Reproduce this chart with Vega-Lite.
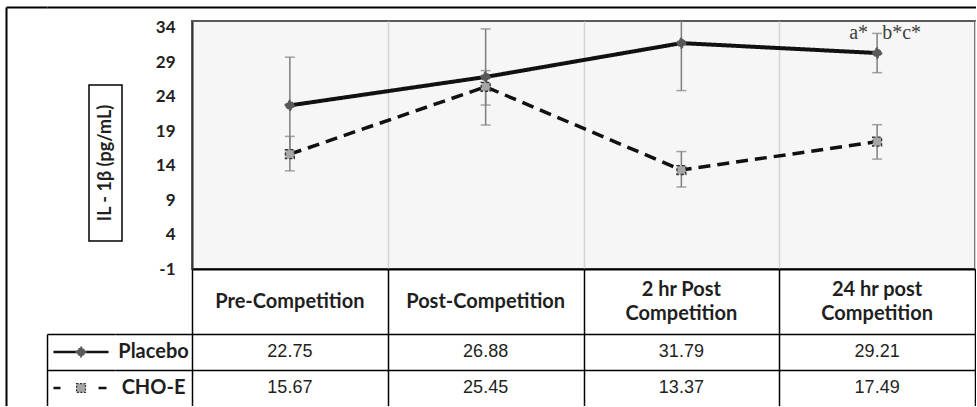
{
  "$schema": "https://vega.github.io/schema/vega-lite/v6.json",
  "padding": {"left": 6, "top": 7, "right": 0, "bottom": 0},
  "background": "white",
  "config": {"view": {"stroke": null}, "font": "Lato"},
  "datasets": {
    "il1b": [
      {"time": "Pre-Competition", "group": "Placebo", "mean": 22.75, "lo": 15.75, "hi": 29.75, "shown": "22.75"},
      {"time": "Post-Competition", "group": "Placebo", "mean": 26.88, "lo": 19.9, "hi": 33.85, "shown": "26.88"},
      {"time": "2 hr Post Competition", "group": "Placebo", "mean": 31.79, "lo": 24.9, "hi": 38.8, "shown": "31.79"},
      {"time": "24 hr post Competition", "group": "Placebo", "mean": 30.35, "lo": 27.5, "hi": 33.2, "shown": "29.21"},
      {"time": "Pre-Competition", "group": "CHO-E", "mean": 15.67, "lo": 13.25, "hi": 18.25, "shown": "15.67"},
      {"time": "Post-Competition", "group": "CHO-E", "mean": 25.45, "lo": 22.8, "hi": 27.8, "shown": "25.45"},
      {"time": "2 hr Post Competition", "group": "CHO-E", "mean": 13.37, "lo": 10.9, "hi": 16.05, "shown": "13.37"},
      {"time": "24 hr post Competition", "group": "CHO-E", "mean": 17.49, "lo": 14.95, "hi": 19.95, "shown": "17.49"}
    ],
    "groups": [{"group": "Placebo"}, {"group": "CHO-E"}],
    "headers": [
      {"time": "Pre-Competition", "label": "Pre-Competition", "lines": 1},
      {"time": "Post-Competition", "label": "Post-Competition", "lines": 1},
      {"time": "2 hr Post Competition", "label": "2 hr Post|Competition", "lines": 2},
      {"time": "24 hr post Competition", "label": "24 hr post|Competition", "lines": 2}
    ]
  },
  "spacing": 0,
  "bounds": "flush",
  "hconcat": [
    {
      "width": 41,
      "height": 399,
      "data": {"values": [{}]},
      "mark": {"type": "point", "opacity": 0},
      "encoding": {
        "x": {"datum": 0.5, "type": "quantitative", "scale": {"domain": [0, 1]},
              "axis": {"orient": "top", "labels": false, "ticks": false, "grid": false, "title": null, "domainColor": "#000", "domainWidth": 2}},
        "y": {"datum": 0.5, "type": "quantitative", "scale": {"domain": [0, 1]},
              "axis": {"orient": "left", "labels": false, "ticks": false, "grid": false, "title": null, "domainColor": "#000", "domainWidth": 2}}
      }
    },
    {
      "spacing": 0,
      "bounds": "flush",
      "vconcat": [
        {
          "width": 929,
          "height": 14,
          "data": {"values": [{}]},
          "mark": {"type": "point", "opacity": 0},
          "encoding": {
            "x": {"datum": 0.5, "type": "quantitative", "scale": {"domain": [0, 1]},
                  "axis": {"orient": "top", "labels": false, "ticks": false, "grid": false, "title": null, "domainColor": "#000", "domainWidth": 2}}
          }
        },
        {
          "spacing": 145,
          "bounds": "flush",
          "hconcat": [
            {
              "spacing": 0,
              "bounds": "flush",
              "vconcat": [
                {"width": 1, "height": 64, "data": {"values": []}, "mark": "point"},
                {
                  "spacing": 0,
                  "bounds": "flush",
                  "hconcat": [
                    {"width": 42, "height": 1, "data": {"values": []}, "mark": "point"},
                    {
                      "width": 33,
                      "height": 156,
                      "view": {"stroke": "#000", "strokeWidth": 1.5, "fill": "white"},
                      "data": {"values": [{"t": "IL - 1β (pg/mL)"}]},
                      "mark": {"type": "text", "angle": 270, "font": "Lato", "fontWeight": "bold", "fontSize": 18, "color": "#1f1f1f"},
                      "encoding": {"text": {"field": "t"}}
                    }
                  ]
                },
                {"width": 1, "height": 249, "data": {"values": []}, "mark": "point"},
                {
                  "spacing": 0,
                  "bounds": "flush",
                  "hconcat": [
                    {
                      "width": 68,
                      "height": 72,
                      "data": {"name": "groups"},
                      "encoding": {
                        "y": {"field": "group", "type": "nominal", "sort": ["Placebo", "CHO-E"],
                              "scale": {"type": "band", "paddingInner": 0, "paddingOuter": 0},
                              "axis": {"title": null, "labels": false, "ticks": false, "domain": true, "domainColor": "#000", "domainWidth": 1.5,
                                       "grid": true, "gridColor": "#000", "gridWidth": 1.5, "bandPosition": 0}}
                      },
                      "layer": [
                        {
                          "mark": {"type": "point", "filled": false, "stroke": "#111", "strokeWidth": 2.5, "size": 400, "opacity": 1},
                          "encoding": {
                            "shape": {"field": "group", "type": "nominal",
                                      "scale": {"domain": ["Placebo", "CHO-E"], "range": ["M-2.75,0H2.75", "M-2.75,0H-2.05M1.75,0H2.55"]},
                                      "legend": null}
                          }
                        },
                        {
                          "mark": {"type": "point", "filled": true, "opacity": 1, "strokeWidth": 1.2, "strokeDash": [2, 1.5]},
                          "encoding": {
                            "shape": {"field": "group", "type": "nominal", "scale": {"domain": ["Placebo", "CHO-E"], "range": ["diamond", "square"]}, "legend": null},
                            "fill": {"field": "group", "type": "nominal", "scale": {"domain": ["Placebo", "CHO-E"], "range": ["#595959", "#a6a6a6"]}, "legend": null},
                            "stroke": {"field": "group", "type": "nominal", "scale": {"domain": ["Placebo", "CHO-E"], "range": ["#595959", "#333333"]}, "legend": null},
                            "size": {"field": "group", "type": "ordinal", "scale": {"domain": ["Placebo", "CHO-E"], "range": [110, 80]}, "legend": null}
                          }
                        }
                      ],
                      "resolve": {"scale": {"shape": "independent"}}
                    },
                    {
                      "width": 77,
                      "height": 72,
                      "data": {"name": "groups"},
                      "mark": {"type": "text", "font": "Lato", "fontWeight": "bold", "fontSize": 20, "color": "#1f1f1f"},
                      "encoding": {
                        "y": {"field": "group", "type": "nominal", "sort": ["Placebo", "CHO-E"],
                              "scale": {"type": "band", "paddingInner": 0, "paddingOuter": 0},
                              "axis": {"title": null, "labels": false, "ticks": false, "domain": false,
                                       "grid": true, "gridColor": "#000", "gridWidth": 1.5, "bandPosition": 0}},
                        "text": {"field": "group"}
                      }
                    }
                  ]
                }
              ]
            },
            {
              "spacing": 0,
              "bounds": "flush",
              "vconcat": [
                {
                  "width": 783,
                  "height": 248,
                  "data": {"name": "il1b"},
                  "view": {"stroke": "#595959", "strokeWidth": 2, "fill": "#f6f6f6"},
                  "encoding": {
                    "x": {"field": "time", "type": "nominal",
                          "sort": ["Pre-Competition", "Post-Competition", "2 hr Post Competition", "24 hr post Competition"],
                          "scale": {"type": "band", "paddingInner": 0, "paddingOuter": 0},
                          "axis": {"title": null, "orient": "bottom", "domain": true, "domainColor": "#000", "domainWidth": 2,
                                   "ticks": false, "labels": false, "tickBand": "extent",
                                   "grid": true, "gridColor": "#d4d4d4", "gridWidth": 1.5}}
                  },
                  "layer": [
                    {
                      "mark": {"type": "rule", "color": "#7f7f7f", "strokeWidth": 1.5, "clip": true},
                      "encoding": {
                        "y": {"field": "lo", "type": "quantitative", "title": null,
                              "scale": {"domain": [-1, 35], "nice": false, "zero": false},
                              "axis": {"title": null, "values": [-1, 4, 9, 14, 19, 24, 29, 34], "tickCount": 20, "ticks": false, "grid": false,
                                       "domain": true, "domainColor": "#333333", "domainWidth": 2, "labelOverlap": false,
                                       "labelExpr": "datum.value < 0 ? '-' + abs(datum.value) : datum.label",
                                       "labelFont": "Lato", "labelFontWeight": "bold", "labelFontSize": 17, "labelColor": "#1f1f1f", "labelPadding": 17}},
                        "y2": {"field": "hi"}
                      }
                    },
                    {
                      "mark": {"type": "tick", "color": "#7f7f7f", "thickness": 1.5, "size": 10, "clip": true},
                      "encoding": {"y": {"field": "lo", "type": "quantitative", "title": null}}
                    },
                    {
                      "mark": {"type": "tick", "color": "#7f7f7f", "thickness": 1.5, "size": 10, "clip": true},
                      "encoding": {"y": {"field": "hi", "type": "quantitative", "title": null}}
                    },
                    {
                      "mark": {"type": "line", "color": "#111111"},
                      "encoding": {
                        "y": {"field": "mean", "type": "quantitative", "title": null},
                        "strokeDash": {"field": "group", "type": "nominal", "scale": {"domain": ["Placebo", "CHO-E"], "range": [[1, 0], [12, 7]]}, "legend": null},
                        "strokeWidth": {"field": "group", "type": "ordinal", "scale": {"domain": ["Placebo", "CHO-E"], "range": [4, 3.5]}, "legend": null}
                      }
                    },
                    {
                      "mark": {"type": "point", "filled": true, "opacity": 1, "strokeWidth": 1.3, "strokeDash": [3, 2]},
                      "encoding": {
                        "y": {"field": "mean", "type": "quantitative", "title": null},
                        "shape": {"field": "group", "type": "nominal", "scale": {"domain": ["Placebo", "CHO-E"], "range": ["diamond", "square"]}, "legend": null},
                        "fill": {"field": "group", "type": "nominal", "scale": {"domain": ["Placebo", "CHO-E"], "range": ["#595959", "#a6a6a6"]}, "legend": null},
                        "stroke": {"field": "group", "type": "nominal", "scale": {"domain": ["Placebo", "CHO-E"], "range": ["#595959", "#333333"]}, "legend": null},
                        "size": {"field": "group", "type": "ordinal", "scale": {"domain": ["Placebo", "CHO-E"], "range": [180, 125]}, "legend": null}
                      }
                    },
                    {
                      "data": {"values": [{"time": "24 hr post Competition", "note": "a*"}]},
                      "mark": {"type": "text", "align": "right", "baseline": "alphabetic", "dx": -9, "font": "Liberation Serif", "fontSize": 20, "color": "#404040"},
                      "encoding": {"y": {"datum": 32.4, "type": "quantitative"}, "text": {"field": "note"}}
                    },
                    {
                      "data": {"values": [{"time": "24 hr post Competition", "note": "b*c*"}]},
                      "mark": {"type": "text", "align": "left", "baseline": "alphabetic", "dx": 5, "font": "Liberation Serif", "fontSize": 20, "color": "#404040"},
                      "encoding": {"y": {"datum": 32.4, "type": "quantitative"}, "text": {"field": "note"}}
                    }
                  ]
                },
                {
                  "width": 783,
                  "height": 65,
                  "data": {"name": "headers"},
                  "encoding": {
                    "x": {"field": "time", "type": "nominal",
                          "sort": ["Pre-Competition", "Post-Competition", "2 hr Post Competition", "24 hr post Competition"],
                          "scale": {"type": "band", "paddingInner": 0, "paddingOuter": 0},
                          "axis": {"title": null, "labels": false, "ticks": false, "domain": false,
                                   "grid": true, "gridColor": "#000", "gridWidth": 1.5, "tickBand": "extent"}},
                    "text": {"field": "label"}
                  },
                  "layer": [
                    {
                      "transform": [{"filter": "datum.lines == 1"}],
                      "mark": {"type": "text", "font": "Lato", "fontWeight": "bold", "fontSize": 20, "color": "#1f1f1f", "baseline": "middle"}
                    },
                    {
                      "transform": [{"filter": "datum.lines == 2"}],
                      "mark": {"type": "text", "font": "Lato", "fontWeight": "bold", "fontSize": 20, "color": "#1f1f1f", "baseline": "middle",
                               "lineBreak": "|", "lineHeight": 24, "dy": -12}
                    }
                  ]
                },
                {
                  "width": 783,
                  "height": 72,
                  "data": {"name": "il1b"},
                  "mark": {"type": "text", "font": "Liberation Sans", "fontSize": 18, "color": "#1f1f1f"},
                  "encoding": {
                    "x": {"field": "time", "type": "nominal",
                          "sort": ["Pre-Competition", "Post-Competition", "2 hr Post Competition", "24 hr post Competition"],
                          "scale": {"type": "band", "paddingInner": 0, "paddingOuter": 0},
                          "axis": {"title": null, "labels": false, "ticks": false, "domain": false,
                                   "grid": true, "gridColor": "#000", "gridWidth": 1.5, "tickBand": "extent"}},
                    "y": {"field": "group", "type": "nominal", "sort": ["Placebo", "CHO-E"],
                          "scale": {"type": "band", "paddingInner": 0, "paddingOuter": 0},
                          "axis": {"title": null, "labels": false, "ticks": false, "domain": false,
                                   "grid": true, "gridColor": "#000", "gridWidth": 1.5, "bandPosition": 0}},
                    "text": {"field": "shown"}
                  }
                }
              ]
            }
          ]
        }
      ]
    }
  ]
}
